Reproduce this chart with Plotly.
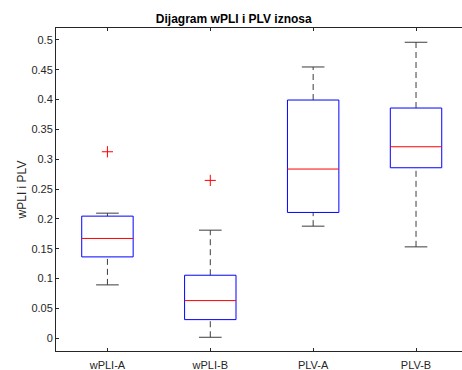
import plotly.graph_objects as go

categories = ["wPLI-A", "wPLI-B", "PLV-A", "PLV-B"]
lower_whisker = [0.0895, 0.0017, 0.1879, 0.1532]
q1 = [0.1364, 0.0313, 0.2109, 0.2858]
median = [0.1673, 0.0632, 0.2836, 0.3210]
q3 = [0.2047, 0.1057, 0.3993, 0.3859]
upper_whisker = [0.2097, 0.1812, 0.4547, 0.4961]
outlier_cat = [1, 2]
outlier_val = [0.3126, 0.2646]
yticks = [0, 0.05, 0.1, 0.15, 0.2, 0.25, 0.3, 0.35, 0.4, 0.45, 0.5]
yticklabels = ["0", "0.05", "0.1", "0.15", "0.2", "0.25", "0.3", "0.35", "0.4", "0.45", "0.5"]

BOX_HALF = 0.25
CAP_HALF = 0.11
WHISK_COLOR = "rgb(60,60,60)"
FONT = "Liberation Sans, Arial, Helvetica, sans-serif"

fig = go.Figure()
for i, cat in enumerate(categories):
    x = i + 1
    # whiskers (dashed)
    fig.add_trace(go.Scatter(x=[x, x, None, x, x], y=[q3[i], upper_whisker[i], None, lower_whisker[i], q1[i]],
                             mode="lines", line=dict(color=WHISK_COLOR, width=1, dash="6px,4px"),
                             hoverinfo="skip", showlegend=False))
    # caps
    fig.add_trace(go.Scatter(x=[x - CAP_HALF, x + CAP_HALF, None, x - CAP_HALF, x + CAP_HALF],
                             y=[upper_whisker[i], upper_whisker[i], None, lower_whisker[i], lower_whisker[i]],
                             mode="lines", line=dict(color=WHISK_COLOR, width=1),
                             hoverinfo="skip", showlegend=False))
    # box
    fig.add_trace(go.Scatter(x=[x - BOX_HALF, x + BOX_HALF, x + BOX_HALF, x - BOX_HALF, x - BOX_HALF],
                             y=[q1[i], q1[i], q3[i], q3[i], q1[i]],
                             mode="lines", line=dict(color="rgb(0,0,255)", width=1),
                             hoverinfo="skip", showlegend=False))
    # median
    fig.add_trace(go.Scatter(x=[x - BOX_HALF, x + BOX_HALF], y=[median[i], median[i]],
                             mode="lines", line=dict(color="rgb(255,0,0)", width=1),
                             hoverinfo="skip", showlegend=False))

fig.add_trace(go.Scatter(x=outlier_cat, y=outlier_val, mode="markers",
                         marker=dict(symbol="cross-thin", size=8, line=dict(color="rgb(255,0,0)", width=1)),
                         showlegend=False, hoverinfo="skip"))

fig.update_layout(
    width=462, height=370,
    margin=dict(l=56, r=0, t=28, b=19),
    paper_bgcolor="white", plot_bgcolor="white",
    font=dict(family=FONT, size=11, color="rgb(38,38,38)"),
    title=dict(text="<b>Dijagram wPLI i PLV iznosa</b>", x=0.506, xanchor="center",
               y=1 - 19 / 370, yanchor="middle", font=dict(size=12, color="black")),
)
fig.update_xaxes(range=[0.5, 4.447], tickvals=[1, 2, 3, 4], ticktext=categories,
                 showgrid=False, zeroline=False, showline=True, linecolor="rgb(38,38,38)", linewidth=1,
                 mirror="ticks", ticks="inside", ticklen=3, tickcolor="rgb(38,38,38)",
                 ticklabelstandoff=4, automargin=False)
fig.update_yaxes(range=[-0.0213, 0.520], tickvals=yticks, ticktext=yticklabels,
                 showgrid=False, zeroline=False, showline=True, linecolor="rgb(38,38,38)", linewidth=1,
                 ticks="inside", ticklen=3, tickcolor="rgb(38,38,38)", automargin=False,
                 title=dict(text="wPLI i PLV", font=dict(size=12), standoff=2))

fig.write_html("out.html", config={"displayModeBar": False},
               post_script="document.body.style.margin='0';")
